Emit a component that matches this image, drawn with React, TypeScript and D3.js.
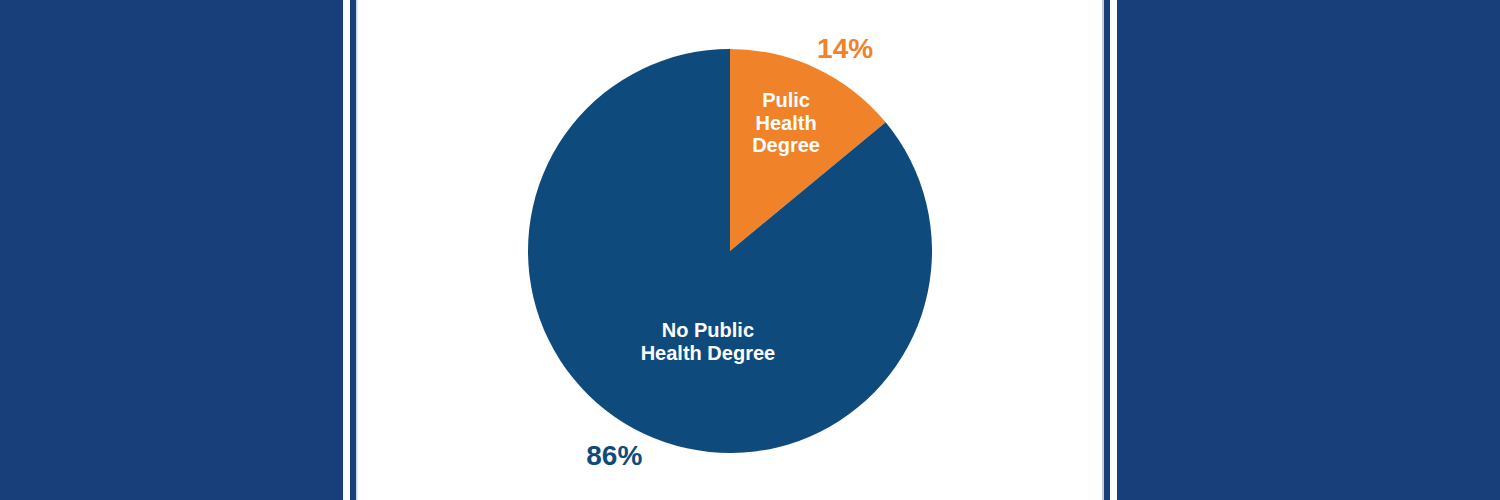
import { useEffect } from "react";
import * as d3 from "d3";

// slice data
const categories = ["Pulic Health Degree", "No Public Health Degree"];
const labelLines = [["Pulic", "Health", "Degree"], ["No Public", "Health Degree"]];
const values = [14, 86];
const colors = ["#f0822a", "#0e4a7c"];

const W = 1500;
const H = 500;

export default function App() {
  useEffect(() => {
    document.body.style.margin = "0";
  }, []);

  const cx = 730;
  const cy = 251;
  const r = 202;

  const pie = d3.pie<number>().sort(null).value((d) => d);
  const arcs = pie(values);
  const arc = d3.arc<d3.PieArcDatum<number>>().innerRadius(0).outerRadius(r);

  // inner label: radius + angle shift (radians) per slice
  const inner = [
    { r: 140, shift: -0.028 },
    { r: 93, shift: -0.2 },
  ];
  const outer = [
    { r: 233, shift: 0.077 },
    { r: 235, shift: 0.075 },
  ];

  const polar = (a: number, rr: number) => [Math.sin(a) * rr, -Math.cos(a) * rr];

  return (
    <svg width={W} height={H} style={{ display: "block" }} fontFamily="'Liberation Sans', Arial, sans-serif">
      <rect width={W} height={H} fill="#183f7a" />
      {/* frame stripes */}
      <rect x={343} width={7} height={H} fill="#ffffff" />
      <rect x={356} width={746} height={H} fill="#ffffff" />
      <rect x={356} width={1.5} height={H} fill="#c9daf0" />
      <rect x={1102} width={2} height={H} fill="#c8cdd6" />
      <rect x={1110} width={7} height={H} fill="#ffffff" />
      <g transform={`translate(${cx},${cy})`}>
        {arcs.map((a, i) => (
          <path key={categories[i]} d={arc(a) ?? ""} fill={colors[i]} />
        ))}
        {arcs.map((a, i) => {
          const mid = (a.startAngle + a.endAngle) / 2 + inner[i].shift;
          const [x, y] = polar(mid, inner[i].r);
          const lines = labelLines[i];
          const lh = 22.5;
          return (
            <text
              key={"l" + i}
              x={x}
              y={y - ((lines.length - 1) * lh) / 2}
              textAnchor="middle"
              dominantBaseline="central"
              fill="#ffffff"
              fontSize={20}
              fontWeight="bold"
            >
              {lines.map((t, j) => (
                <tspan key={j} x={x} dy={j === 0 ? 0 : lh}>
                  {t}
                </tspan>
              ))}
            </text>
          );
        })}
        {arcs.map((a, i) => {
          const mid = (a.startAngle + a.endAngle) / 2 + outer[i].shift;
          const [x, y] = polar(mid, outer[i].r);
          return (
            <text
              key={"p" + i}
              x={x}
              y={y}
              textAnchor="middle"
              dominantBaseline="central"
              fill={colors[i]}
              fontSize={28}
              fontWeight="bold"
            >
              {values[i]}%
            </text>
          );
        })}
      </g>
    </svg>
  );
}
